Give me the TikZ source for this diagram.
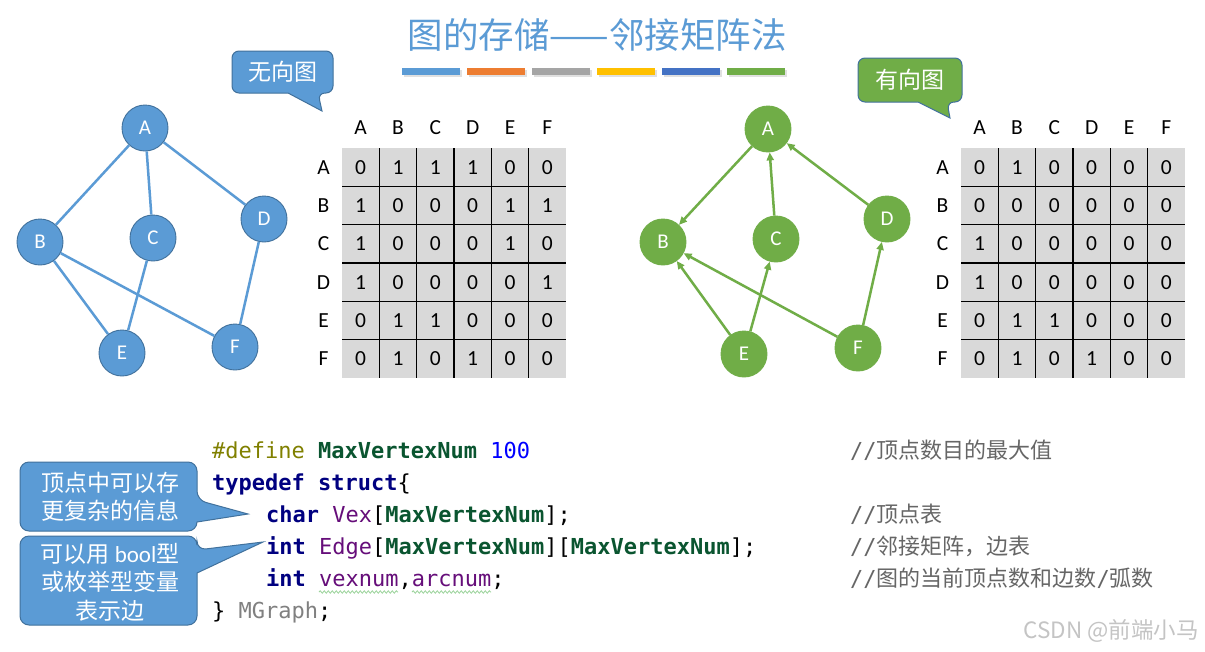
\documentclass[tikz,border=0pt]{standalone}
\usepackage{fontspec}
\setmainfont{Carlito}
\newfontfamily\cjk{Noto Sans CJK SC}
\newfontfamily\mono{DejaVu Sans Mono}
\usetikzlibrary{arrows.meta,decorations.pathmorphing}
\definecolor{lblue}{HTML}{5B9BD5}
\definecolor{bord}{HTML}{41719C}
\definecolor{lgreen}{HTML}{70AD47}
\definecolor{gbord}{HTML}{507E32}
\definecolor{orangeb}{HTML}{ED7D31}
\definecolor{grayb}{HTML}{A5A5A5}
\definecolor{yellowb}{HTML}{FFC000}
\definecolor{dblue}{HTML}{4472C4}
\definecolor{cellgray}{HTML}{D9D9D9}
\definecolor{kwblue}{HTML}{000080}
\definecolor{macrogreen}{HTML}{0A5530}
\definecolor{olivec}{HTML}{808000}
\definecolor{numblue}{HTML}{0000FF}
\definecolor{fieldpurple}{HTML}{660E7A}
\definecolor{mgray}{HTML}{808080}
\definecolor{cmtgray}{HTML}{666666}
\definecolor{wavyc}{HTML}{9AD39A}
\definecolor{wmark}{HTML}{C4C4C4}
\newcommand{\adjmatrix}[3]{%
  \fill[cellgray] (#1,148) rectangle ++(224,230);
  \foreach \k in {1,...,5} {
    \draw[gridline] ({#1+\k*224/6},148) -- ++(0,230);
    \draw[gridline] (#1,{148+\k*230/6}) -- ++(224,0);
  }
  \foreach \lab [count=\i] in {A,B,C,D,E,F} {
    \node[mlabel] (#2h\i) at ({#1+(\i-0.5)*224/6},128) {\lab};
    \node[mlabel] (#2r\i) at ({#1-18.5},{148+(\i-0.5)*230/6}) {\lab};
  }
  \foreach \row [count=\i] in {#3} {
    \foreach \v [count=\j] in \row {
      \node[mlabel] (#2m\i\j) at ({#1+(\j-0.5)*224/6},{148+(\i-0.5)*230/6}) {\v};
    }
  }
}
\begin{document}
\begin{tikzpicture}[x=1pt,y=-1pt,
  gridline/.style={black,line width=1.1pt},
  mlabel/.style={inner sep=0pt,font=\fontsize{21.5}{24}\selectfont},
  lnode/.style={circle,minimum size=46pt,inner sep=0pt,fill=lblue,draw=bord,line width=0.9pt,text=white,font=\fontsize{21}{24}\selectfont},
  rnode/.style={circle,minimum size=46pt,inner sep=0pt,fill=lgreen,draw=lgreen,line width=0.9pt,text=white,font=\fontsize{21}{24}\selectfont},
  ledge/.style={lblue,line width=2.5pt},
  redge/.style={lgreen,line width=2.5pt,-{Triangle[length=8pt,width=7pt]}},
  callblue/.style={fill=lblue,draw=bord,line width=1pt},
  callgreen/.style={fill=lgreen,draw=bord,line width=1pt},
  calltext/.style={text=white,inner sep=0pt,align=center,font=\cjk\fontsize{23}{28.5}\selectfont},
  code/.style={anchor=base west,inner sep=0pt,font=\mono\fontsize{22}{26}\selectfont},
  cmt/.style={anchor=base west,inner sep=0pt,text=cmtgray,font=\fontsize{22}{26}\selectfont}
]
\useasboundingbox (0,0) rectangle (1205,651);
\fill[white] (0,0) rectangle (1205,651);

% title
\node[text=lblue,inner sep=0pt,font=\cjk\fontsize{35.5}{40}\selectfont] (title) at (597,35) {图的存储——邻接矩阵法};
% colour bars
\foreach \xa/\c [count=\n] in {402/lblue,467/orangeb,532/grayb,597/yellowb,662/dblue,727/lgreen} {
  \fill[black!12] (\xa+1.5,69.5) rectangle ++(58,7);
  \fill[\c] (\xa,68) rectangle ++(58,7);
}

% callouts top
\filldraw[callblue][rounded corners=7pt] (232,70) |- (333,51) |- (318,93) [sharp corners] -- (322,111) -- (288,93) [rounded corners=7pt] -| (232,76) -- cycle;
\node[calltext] (cu) at (283,72) {无向图};
\filldraw[callgreen][rounded corners=7pt] (858,78) |- (962,58) |- (947,102) [sharp corners] -- (950,118) -- (918,102) [rounded corners=7pt] -| (858,84) -- cycle;
\node[calltext] (cd) at (910,80) {有向图};

% left graph
\node[lnode] (LA) at (145,128) {A};
\node[lnode] (LB) at (40,242) {B};
\node[lnode] (LC) at (153,238) {C};
\node[lnode] (LD) at (264,219) {D};
\node[lnode] (LE) at (122,353) {E};
\node[lnode] (LF) at (235,347) {F};
\draw[ledge] (LA) -- (LB);
\draw[ledge] (LA) -- (LC);
\draw[ledge] (LA) -- (LD);
\draw[ledge] (LB) -- (LE);
\draw[ledge] (LB) -- (LF);
\draw[ledge] (LC) -- (LE);
\draw[ledge] (LD) -- (LF);

% right graph
\node[rnode] (RA) at (768,129) {A};
\node[rnode] (RB) at (663,242) {B};
\node[rnode] (RC) at (776,239) {C};
\node[rnode] (RD) at (887,219) {D};
\node[rnode] (RE) at (744,354) {E};
\node[rnode] (RF) at (858,348) {F};
\draw[redge] (RA) -- (RB);
\draw[redge] (RC) -- (RA);
\draw[redge] (RD) -- (RA);
\draw[redge] (RE) -- (RB);
\draw[redge] (RE) -- (RC);
\draw[redge] (RF) -- (RB);
\draw[redge] (RF) -- (RD);

% matrices
\adjmatrix{342}{L}{{0,1,1,1,0,0},{1,0,0,0,1,1},{1,0,0,0,1,0},{1,0,0,0,0,1},{0,1,1,0,0,0},{0,1,0,1,0,0}}
\adjmatrix{961}{R}{{0,1,0,0,0,0},{0,0,0,0,0,0},{1,0,0,0,0,0},{1,0,0,0,0,0},{0,1,1,0,0,0},{0,1,0,1,0,0}}

% code
\node[code] (c1) at (212,458) {{\color{olivec}\#define} {\bfseries\color{macrogreen}MaxVertexNum} {\color{numblue}100}};
\node[code] (c2) at (212,490) {{\bfseries\color{kwblue}typedef struct}\{};
\node[code] (c3) at (266,522) {{\bfseries\color{kwblue}char} {\color{fieldpurple}Vex}[{\bfseries\color{macrogreen}MaxVertexNum}];};
\node[code] (c4) at (266,554) {{\bfseries\color{kwblue}int} {\color{fieldpurple}Edge}[{\bfseries\color{macrogreen}MaxVertexNum}][{\bfseries\color{macrogreen}MaxVertexNum}];};
\node[code] (c5) at (266,586) {{\bfseries\color{kwblue}int} {\color{fieldpurple}vexnum},{\color{fieldpurple}arcnum};};
\node[code] (c6) at (212,618) {\} {\color{mgray}MGraph};};
\draw[wavyc,line width=0.8pt,decorate,decoration={snake,amplitude=1.2pt,segment length=4pt}] (319,592) -- (398,592);
\draw[wavyc,line width=0.8pt,decorate,decoration={snake,amplitude=1.2pt,segment length=4pt}] (412,592) -- (491,592);

% comments
\node[cmt] (k1) at (850,458) {{\mono //}{\cjk 顶点数目的最大值}};
\node[cmt] (k2) at (850,522) {{\mono //}{\cjk 顶点表}};
\node[cmt] (k3) at (850,554) {{\mono //}{\cjk 邻接矩阵，边表}};
\node[cmt] (k4) at (850,586) {{\mono //}{\cjk 图的当前顶点数和边数}{\mono /}{\cjk 弧数}};

% side callouts
\filldraw[callblue][rounded corners=9pt] (20,490) |- (197,462) -- (197,500) [sharp corners] -- (248,514) -- (197,522) [rounded corners=9pt] |- (20,531) -- (20,495) -- cycle;
\node[calltext] (n1) at (110,497) {顶点中可以存\\更复杂的信息};
\filldraw[callblue][rounded corners=9pt] (20,575) |- (197,536) -- (197,550) [sharp corners] -- (263,542) -- (197,573) [rounded corners=9pt] |- (20,625) -- (20,580) -- cycle;
\node[calltext] (n2) at (110,582) {可以用 {\rmfamily bool}型\\或枚举型变量\\表示边};

% watermark
\node[anchor=east,inner sep=0pt,text=wmark,font=\cjk\fontsize{22.5}{26}\selectfont] (wm) at (1199,631) {CSDN @前端小马};
\end{tikzpicture}
\end{document}
